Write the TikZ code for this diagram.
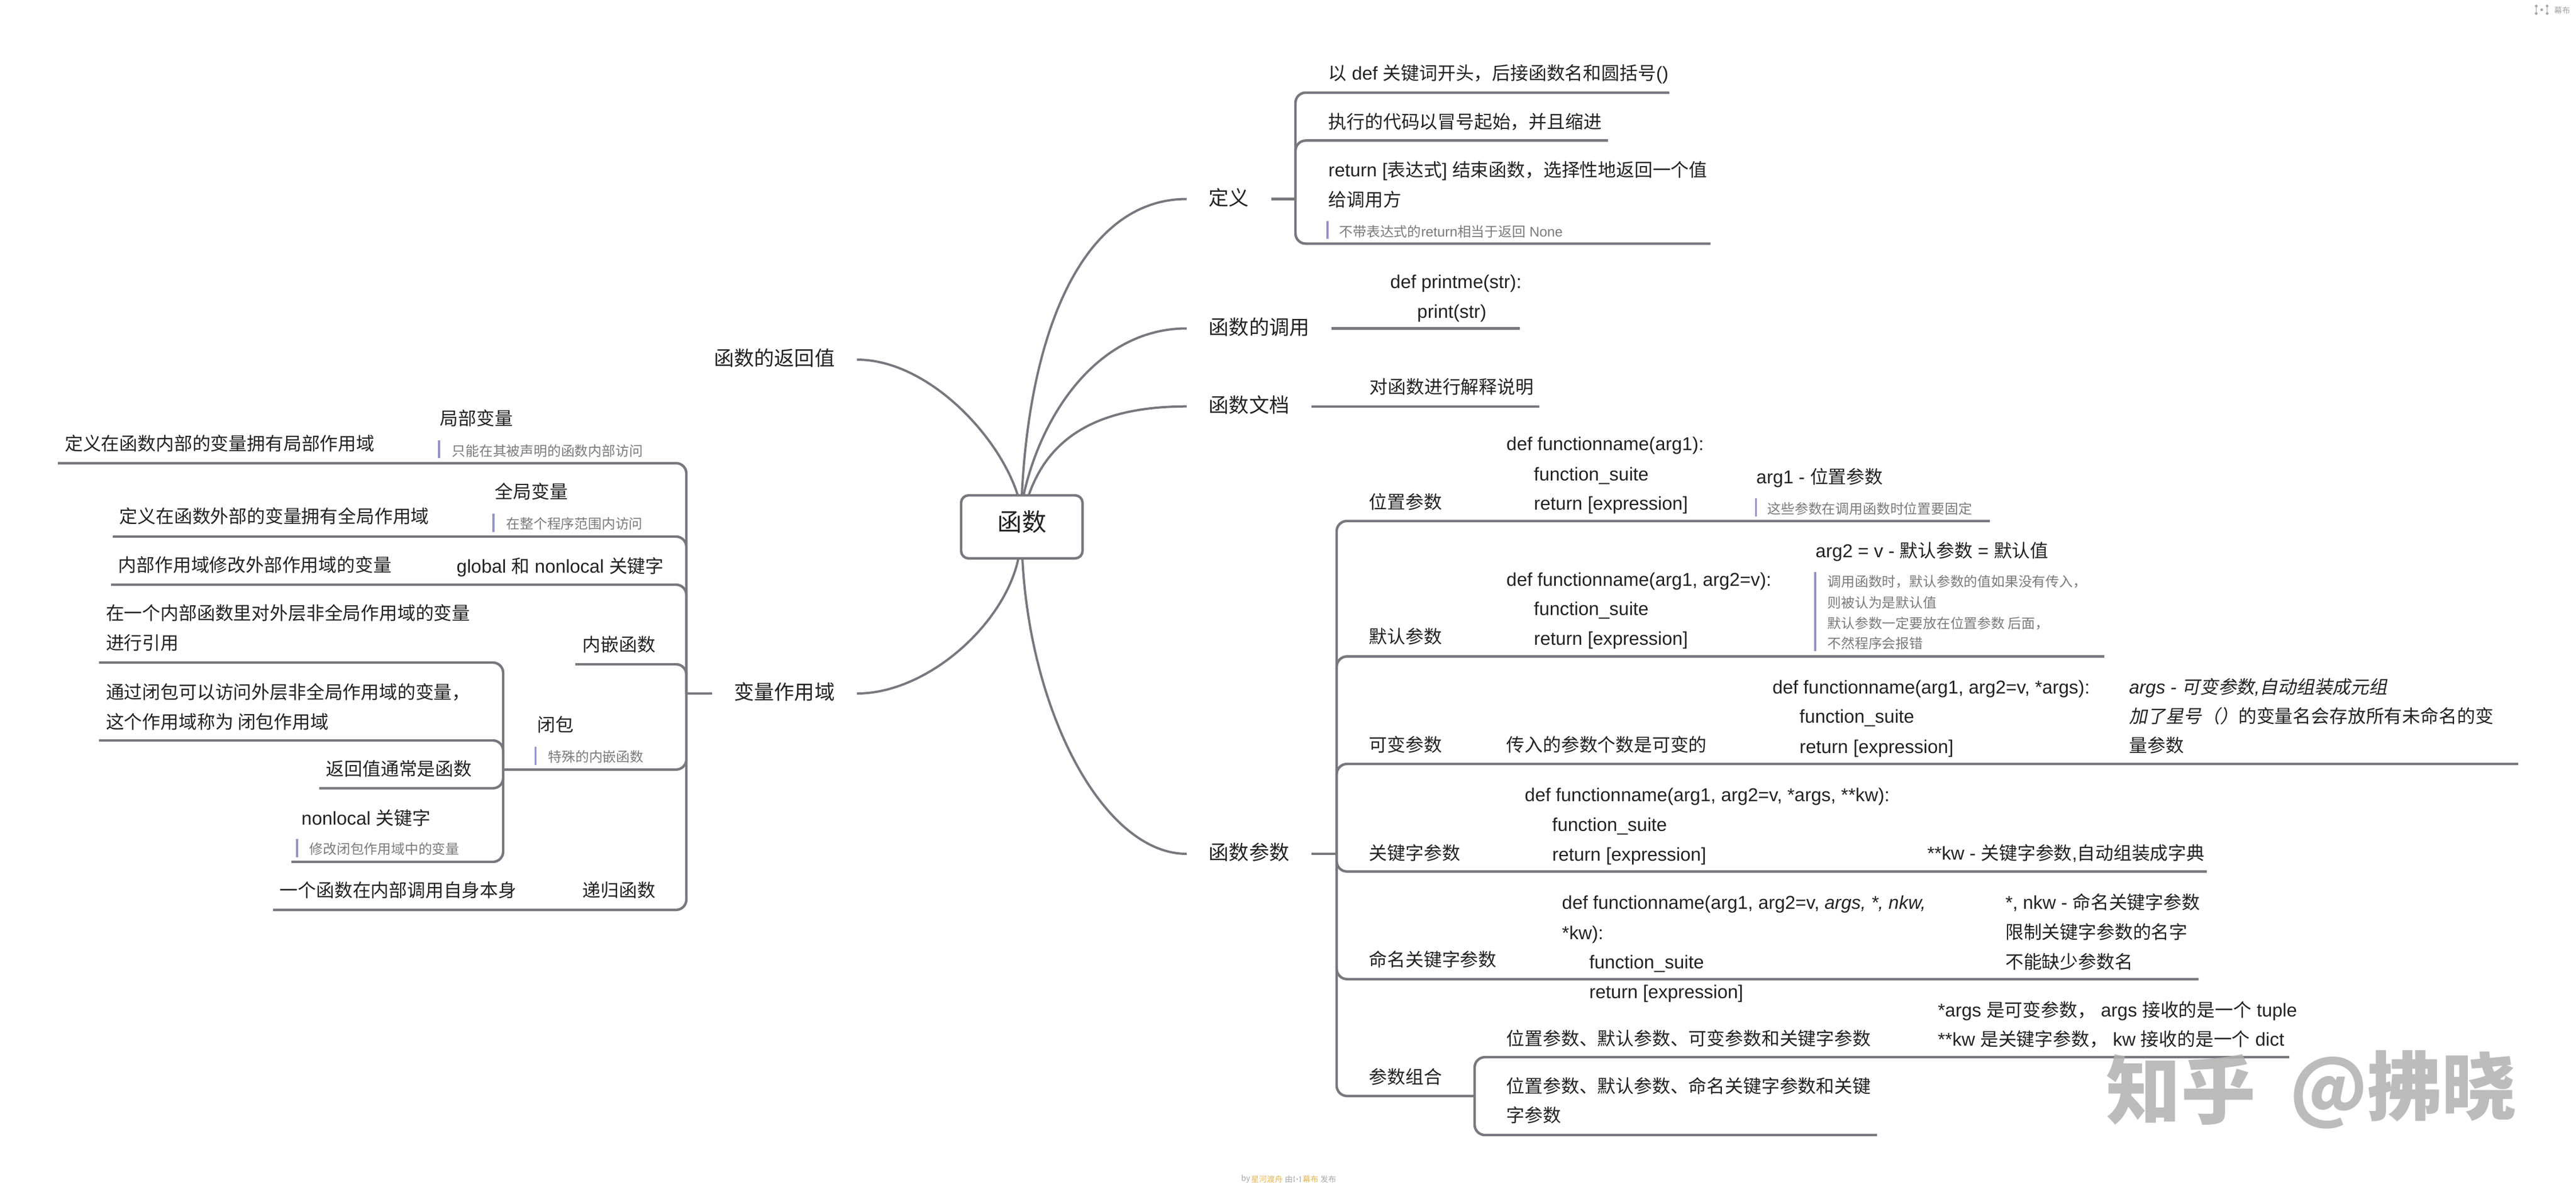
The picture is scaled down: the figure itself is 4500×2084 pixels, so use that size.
\documentclass[tikz,border=0pt]{standalone}
\usepackage{fontspec}
\setmainfont{Noto Sans CJK SC}
\newfontfamily\slantfont[FakeSlant=0.2]{Noto Sans CJK SC}
\newfontfamily\latfont[Scale=1.02]{Liberation Sans}
\newcommand{\lat}[1]{{\latfont #1}}
\newcommand{\lati}[1]{{\latfont\itshape #1}}
\definecolor{linegray}{HTML}{77777F}
\definecolor{inkgray}{HTML}{222222}
\definecolor{notegray}{HTML}{7A7A7A}
\definecolor{barblue}{HTML}{9292D0}
\definecolor{footgray}{HTML}{A6A6A6}
\definecolor{footgold}{HTML}{E3B552}
\definecolor{markgray}{HTML}{B0B0B0}
\tikzset{
  link/.style={draw=linegray,line width=0.044cm,rounded corners=0.18cm},
  curve/.style={draw=linegray,line width=0.04cm},
  bar/.style={draw=barblue,line width=0.035cm},
  rootbox/.style={draw=linegray,line width=0.044cm,fill=white,rounded corners=0.13cm,
    minimum width=2.12cm,minimum height=1.1cm,inner sep=0pt,text=inkgray,
    font=\fontsize{12.2}{14}\selectfont,text height=.8em,text depth=.36em},
  topic/.style={inner xsep=0.38cm,inner ysep=0pt,text=inkgray,
    font=\fontsize{10}{12}\selectfont,text height=.8em,text depth=.2em},
  leaf/.style={anchor=west,inner sep=0pt,text=inkgray,
    font=\fontsize{9.05}{11}\selectfont,text height=.88em,text depth=.12em},
  code/.style={leaf,font=\fontsize{9.05}{11}\latfont},
  note/.style={anchor=west,inner sep=0pt,text=notegray,
    font=\fontsize{6.77}{8}\selectfont,text height=.88em,text depth=.12em},
  foot/.style={anchor=west,inner sep=0pt,text=footgray,
    font=\fontsize{3.9}{5}\selectfont},
  wmark/.style={inner sep=0pt,text=markgray,text opacity=.85,
    font=\fontsize{37}{40}\selectfont\bfseries},
  mubulogo/.pic={
    \draw[footgray,line width=0.012cm] (-9.5,-6) -- (-9.5,6) (9.5,-6) -- (9.5,6);
    \fill[footgray] (-9.5,-6.5) circle (2.4) (-9.5,6.5) circle (2.4)
      (9.5,-6.5) circle (2.4) (9.5,6.5) circle (2.4) (0,0) circle (2.4);
  }
}
\begin{document}
\begin{tikzpicture}[x=0.01cm,y=-0.01cm]
\useasboundingbox (0,0) rectangle (4500,2084);

\node[rootbox] (root) at (1785,920) {函数};
\coordinate (rna) at (1778,865);
\coordinate (rnb) at (1785,865);
\coordinate (rnc) at (1788,865);
\coordinate (rnd) at (1797,865);
\coordinate (rsa) at (1779,975);
\coordinate (rsb) at (1786,975);

\node[topic,anchor=west] (defn) at (2073,347.5) {定义};
\node[topic,anchor=west] (call) at (2073,573.5) {函数的调用};
\node[topic,anchor=west] (doc) at (2073,709.7) {函数文档};
\node[topic,anchor=west] (args) at (2073,1491) {函数参数};
\node[topic,anchor=east] (ret) at (1497,628) {函数的返回值};
\node[topic,anchor=east] (scope) at (1497,1211) {变量作用域};

\draw[curve] (rnb) .. controls (1800,560) and (1900,347.5) .. (defn.west);
\draw[curve] (rnc) .. controls (1820,720) and (1920,573.5) .. (call.west);
\draw[curve] (rnd) .. controls (1835,755) and (1930,709.7) .. (doc.west);
\draw[curve] (rsb) .. controls (1800,1250) and (1930,1491) .. (args.west);
\draw[curve] (rna) .. controls (1745,760) and (1620,628) .. (ret.east);
\draw[curve] (rsa) .. controls (1755,1090) and (1620,1211) .. (scope.east);

\node[leaf] (d1) at (2320,126.5) {以\lat{ def }关键词开头，后接函数名和圆括号\lat{()}};
\node[leaf] (d2) at (2320,210.7) {执行的代码以冒号起始，并且缩进};
\node[leaf] (d3a) at (2320,295) {\lat{return [}表达式\lat{] }结束函数，选择性地返回一个值};
\node[leaf] (d3b) at (2320,347.5) {给调用方};
\node[note] (d3n) at (2339,400.5) {不带表达式的\lat{return}相当于返回\lat{ None}};
\draw[bar] (2319,386) -- (2319,417);
\coordinate (dj) at (2263,347.5);
\coordinate (de1) at (2916,161.7);
\coordinate (de2) at (2809,245.4);
\coordinate (de3) at (2988,425.5);
\draw[link] (defn.east) -- (dj);
\draw[link] (de1) -- (de1 -| dj) -- (dj);
\draw[link] (de2) -- (de2 -| dj) -- (dj);
\draw[link] (de3) -- (de3 -| dj) -- (dj);

\node[code] (c1) at (2428,490) {def printme(str):};
\node[code] (c2) at (2475,542) {print(str)};
\coordinate (ce1) at (2655,573.5);
\draw[link] (call.east) -- (ce1);

\node[leaf] (f1) at (2392,674.5) {对函数进行解释说明};
\coordinate (fe1) at (2689,709.7);
\draw[link] (doc.east) -- (fe1);

\node[leaf] (p1) at (2391,875) {位置参数};
\node[code] (p1a) at (2631,773.6) {def functionname(arg1):};
\node[code] (p1b) at (2679,826) {function\_suite};
\node[code] (p1c) at (2679,877.6) {return [expression]};
\node[leaf] (p1d) at (3067.5,831) {\lat{arg1 - }位置参数};
\node[note] (p1n) at (3087,884) {这些参数在调用函数时位置要固定};
\draw[bar] (3067.5,870) -- (3067.5,901.7);

\node[leaf] (p2) at (2391,1110.6) {默认参数};
\node[code] (p2a) at (2631,1010) {def functionname(arg1, arg2=v):};
\node[code] (p2b) at (2679,1061.5) {function\_suite};
\node[code] (p2c) at (2679,1112.8) {return [expression]};
\node[leaf] (p2d) at (3171,960) {\lat{arg2 = v - }默认参数\lat{ = }默认值};
\node[note] (p2n1) at (3192,1011.5) {调用函数时，默认参数的值如果没有传入，};
\node[note] (p2n2) at (3192,1047.7) {则被认为是默认值};
\node[note] (p2n3) at (3192,1083.8) {默认参数一定要放在位置参数 后面，};
\node[note] (p2n4) at (3192,1119.5) {不然程序会报错};
\draw[bar] (3171,998.6) -- (3171,1137.4);

\node[leaf] (p3) at (2391,1299.5) {可变参数};
\node[leaf] (p3a) at (2631,1299.5) {传入的参数个数是可变的};
\node[code] (p3b) at (3095.6,1197.7) {def functionname(arg1, arg2=v, *args):};
\node[code] (p3c) at (3143,1249.5) {function\_suite};
\node[code] (p3d) at (3143,1301.7) {return [expression]};
\node[leaf] (p3e) at (3718.6,1197.7) {\lati{args - }{\slantfont 可变参数}\lati{,}{\slantfont 自动组装成元组}};
\node[leaf] (p3f) at (3718.6,1249.5) {{\slantfont 加了星号（）}的变量名会存放所有未命名的变};
\node[leaf] (p3g) at (3718.6,1300) {量参数};

\node[leaf] (p4) at (2391,1488) {关键字参数};
\node[code] (p4a) at (2663,1386.5) {def functionname(arg1, arg2=v, *args, **kw):};
\node[code] (p4b) at (2711,1438) {function\_suite};
\node[code] (p4c) at (2711,1490) {return [expression]};
\node[leaf] (p4d) at (3366,1488) {\lat{**kw - }关键字参数\lat{,}自动组装成字典};

\node[leaf] (p5) at (2391,1674) {命名关键字参数};
\node[code] (p5a) at (2728,1574) {def functionname(arg1, arg2=v, \itshape args, *, nkw,};
\node[code] (p5b) at (2728,1627) {*kw):};
\node[code] (p5c) at (2775.6,1678) {function\_suite};
\node[code] (p5d) at (2775.6,1730) {return [expression]};
\node[leaf] (p5e) at (3502.5,1574) {\lat{*, nkw - }命名关键字参数};
\node[leaf] (p5f) at (3502.5,1625.7) {限制关键字参数的名字};
\node[leaf] (p5g) at (3502.5,1678) {不能缺少参数名};

\node[leaf] (p6) at (2391,1878.7) {参数组合};
\node[leaf] (p6a) at (2631,1812) {位置参数、默认参数、可变参数和关键字参数};
\node[leaf] (p6b) at (3384.6,1762.4) {\lat{*args }是可变参数，\lat{ args }接收的是一个\lat{ tuple}};
\node[leaf] (p6c) at (3384.6,1813.6) {\lat{**kw }是关键字参数，\lat{ kw }接收的是一个\lat{ dict}};
\node[leaf] (p6d) at (2631,1895) {位置参数、默认参数、命名关键字参数和关键};
\node[leaf] (p6e) at (2631,1946.5) {字参数};

\coordinate (aj) at (2335,1491);
\coordinate (ae1) at (3476,909.7);
\coordinate (ae2) at (3676,1146.3);
\coordinate (ae3) at (4399,1334);
\coordinate (ae4) at (3855,1521.8);
\coordinate (ae5) at (3840.6,1709.7);
\coordinate (bj) at (2576,1913.8);
\coordinate (be1) at (3999,1846);
\coordinate (be2) at (3279,1982);
\draw[link] (args.east) -- (aj);
\draw[link] (ae1) -- (ae1 -| aj) -- (aj);
\draw[link] (ae2) -- (ae2 -| aj) -- (aj);
\draw[link] (ae3) -- (ae3 -| aj) -- (aj);
\draw[link] (ae4) -- (ae4 -| aj) -- (aj);
\draw[link] (ae5) -- (ae5 -| aj) -- (aj);
\draw[link] (bj) -- (bj -| aj) -- (aj);
\draw[link] (be1) -- (be1 -| bj) -- (bj);
\draw[link] (be2) -- (be2 -| bj) -- (bj);

\node[leaf] (s1) at (768,729) {局部变量};
\node[leaf] (s1a) at (112.6,773) {定义在函数内部的变量拥有局部作用域};
\node[note] (s1n) at (789,782.7) {只能在其被声明的函数内部访问};
\draw[bar] (767,769) -- (767,800);
\node[leaf] (s2) at (864,857) {全局变量};
\node[leaf] (s2a) at (208,900.6) {定义在函数外部的变量拥有全局作用域};
\node[note] (s2n) at (884,910.6) {在整个程序范围内访问};
\draw[bar] (862,897) -- (862,928.5);
\node[leaf] (s3a) at (206,984.8) {内部作用域修改外部作用域的变量};
\node[leaf] (s3) at (797,986.7) {\lat{global }和\lat{ nonlocal }关键字};
\node[leaf] (s4) at (1017,1124.5) {内嵌函数};
\node[leaf] (s4a) at (184.4,1069) {在一个内部函数里对外层非全局作用域的变量};
\node[leaf] (s4b) at (184.4,1121) {进行引用};
\node[leaf] (s5) at (937.5,1264) {闭包};
\node[note] (s5n) at (957,1317) {特殊的内嵌函数};
\draw[bar] (935.6,1304) -- (935.6,1335.5);
\node[leaf] (s5a) at (184.4,1207) {通过闭包可以访问外层非全局作用域的变量，};
\node[leaf] (s5b) at (184.4,1259) {这个作用域称为 闭包作用域};
\node[leaf] (s5c) at (569,1341) {返回值通常是函数};
\node[leaf] (s5d) at (526,1427) {\lat{nonlocal }关键字};
\node[note] (s5e) at (540,1478) {修改闭包作用域中的变量};
\draw[bar] (519,1465) -- (519,1496.7);
\node[leaf] (s6) at (1017,1553) {递归函数};
\node[leaf] (s6a) at (488,1553) {一个函数在内部调用自身本身};

\coordinate (sj) at (1199,1211);
\coordinate (se1) at (101,808.8);
\coordinate (se2) at (197,937);
\coordinate (se3) at (194,1021);
\coordinate (se4) at (1005,1160);
\coordinate (se6) at (477,1588.8);
\coordinate (cj) at (879,1343.8);
\coordinate (ce2) at (173,1157);
\coordinate (ce3) at (173,1293);
\coordinate (ce4) at (557.6,1376.5);
\coordinate (ce5) at (509,1505);
\draw[link] (scope.west) -- (sj);
\draw[link] (se1) -- (se1 -| sj) -- (sj);
\draw[link] (se2) -- (se2 -| sj) -- (sj);
\draw[link] (se3) -- (se3 -| sj) -- (sj);
\draw[link] (se4) -- (se4 -| sj) -- (sj);
\draw[link] (se6) -- (se6 -| sj) -- (sj);
\draw[link] (cj) -- (cj -| sj) -- (sj);
\draw[link] (ce2) -- (ce2 -| cj) -- (cj);
\draw[link] (ce3) -- (ce3 -| cj) -- (cj);
\draw[link] (ce4) -- (ce4 -| cj) -- (cj);
\draw[link] (ce5) -- (ce5 -| cj) -- (cj);

\pic at (4440,17) {mubulogo};
\node[foot,font=\fontsize{4}{5}\selectfont] (toplogo) at (4461,18) {幕布};
\node[foot] (fa) at (2167.7,2059) {by};
\node[foot,text=footgold] (fb) at (2185,2059) {星河渡舟};
\node[foot] (fc) at (2244,2059) {由};
\pic[scale=.55] at (2266,2059) {mubulogo};
\node[foot,text=footgold] (fd) at (2275,2059) {幕布};
\node[foot] (fe) at (2306,2059) {发布};

\node[wmark] (wma) at (3810,1903) {知乎};
\node[wmark] (wmb) at (4198,1903) {@拂晓};
\end{tikzpicture}
\end{document}
